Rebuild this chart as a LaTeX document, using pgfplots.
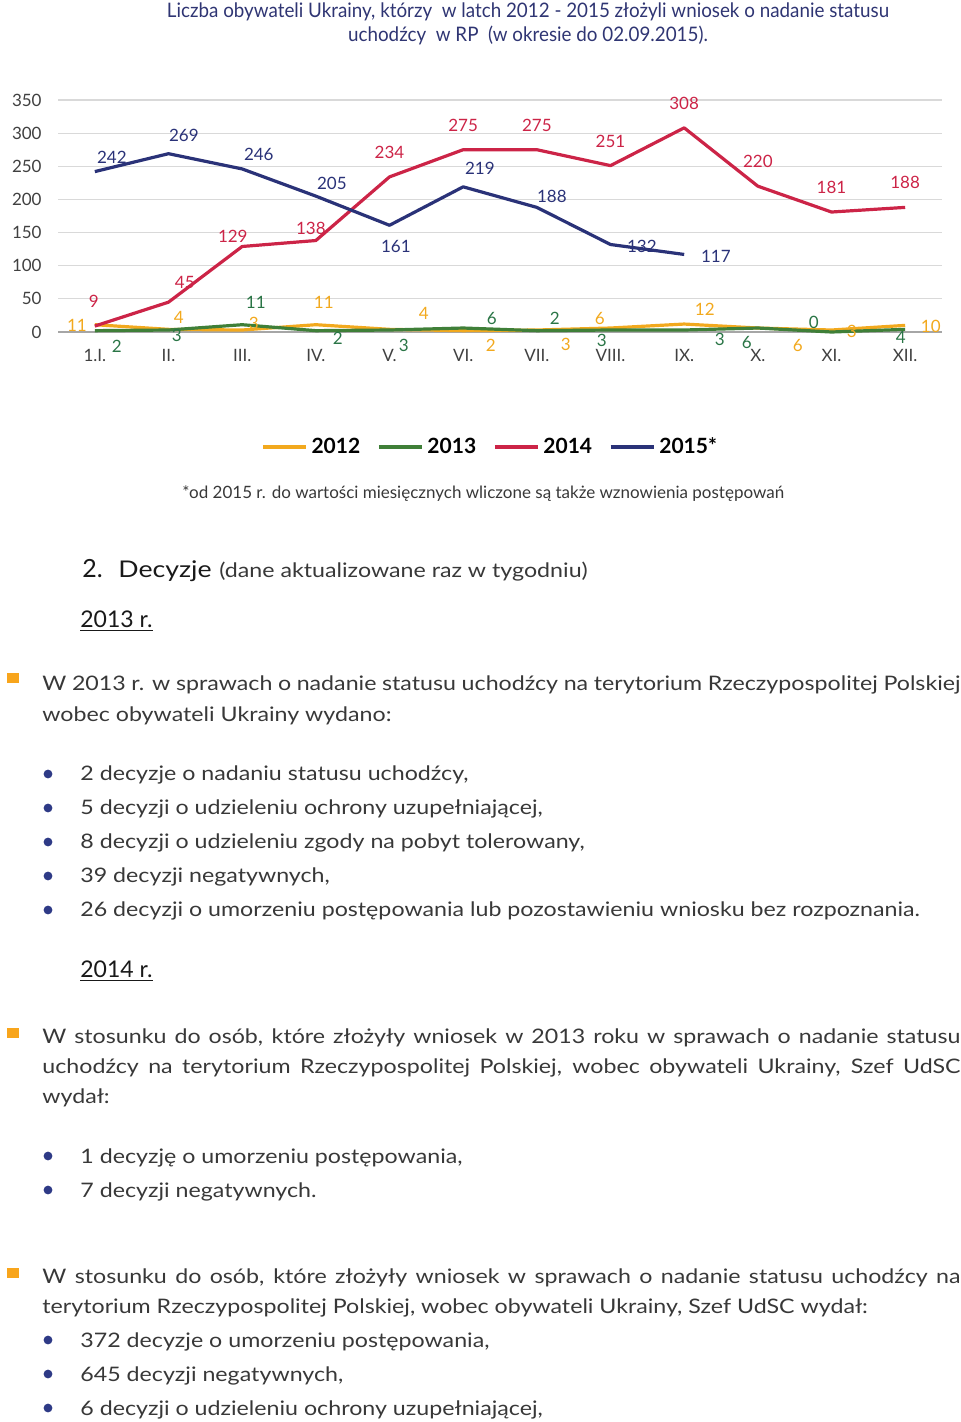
\documentclass[border=0pt]{standalone}
\usepackage{fontspec}
\setmainfont{Lato}
\newfontfamily\condfont[FakeStretch=0.94]{Lato}
\newfontfamily\widefont[FakeStretch=1.16]{Lato}
\usepackage{pgfplots}
\pgfplotsset{compat=1.18}
\usepackage{pgfplotstable}

\definecolor{c2012}{HTML}{F2A91E}
\definecolor{c2013}{HTML}{3F7F38}
\definecolor{l2013}{HTML}{2A7546}
\definecolor{c2014}{HTML}{CC2447}
\definecolor{c2015}{HTML}{2A3278}
\definecolor{titlec}{HTML}{2F3573}
\definecolor{dotc}{HTML}{2E3A86}
\definecolor{sqc}{HTML}{F8A51C}
\definecolor{bodyc}{HTML}{383838}
\definecolor{gridc}{HTML}{D9D9D9}
\definecolor{tickc}{HTML}{404040}

% monthly values
\pgfplotstableread{
m y12 y13 y14
0 11 2 9
1 4 3 45
2 3 11 129
3 11 2 138
4 4 3 234
5 2 6 275
6 3 2 275
7 6 3 251
8 12 3 308
9 6 6 220
10 3 0 181
11 10 4 188
}\monthly
\pgfplotstableread{
m y15
0 242
1 269
2 246
3 205
4 161
5 219
6 188
7 132
8 117
}\ytd

% where each data label sits (axis units) and its text
\pgfplotstableread{
lx ly t
-0.244 10.6 11
1.140 22.6 4
2.158 13.6 3
3.108 45.3 11
4.466 28.7 4
5.375 -19.6 2
6.393 -18.1 3
6.855 21.1 6
8.280 34.7 12
9.543 -19.6 6
10.276 1.5 3
11.348 9.1 10
}\labA
\pgfplotstableread{
lx ly t
0.299 -21.1 2
1.113 -4.5 3
2.185 45.3 11
3.298 -9.1 2
4.194 -19.6 3
5.389 21.1 6
6.244 21.1 2
6.882 -12.1 3
8.484 -10.6 3
8.850 -15.1 6
9.760 15.1 0
10.941 -7.5 4
}\labB
\pgfplotstableread{
lx ly t
-0.014 46.8 9
1.222 75.4 45
1.873 144.8 129
2.932 156.9 138
4.0 271.5 234
5.0 312.3 275
6.0 312.3 275
7.0 288.1 251
8.0 345.5 308
9.0 258.0 220
10.0 218.7 181
11.0 226.3 188
}\labC
\pgfplotstableread{
lx ly t
0.231 264.0 242
1.208 297.2 269
2.226 268.5 246
3.217 224.8 205
4.087 129.7 161
5.226 247.4 219
6.204 205.2 188
7.426 129.7 132
8.430 114.7 117
}\labD

\newcommand\bodyf{\widefont\fontsize{10}{12}\selectfont}
\newcommand\labf{\fontsize{8.5}{10}\selectfont}

\begin{document}
\begin{tikzpicture}[x=0.5pt,y=0.5pt]
\useasboundingbox (0,0) rectangle (960,-1422);

\begin{axis}[
  at={(29pt,-166pt)}, anchor=south west,
  scale only axis, width=442pt, height=116pt,
  xmin=-0.5, xmax=11.5, ymin=0, ymax=350,
  ytick={0,50,...,350}, xtick={0,...,11},
  xticklabels={1.I.,II.,III.,IV.,V.,VI.,VII.,VIII.,IX.,X.,XI.,XII.},
  ymajorgrids, grid style={gridc, line width=0.6pt},
  axis line style={draw=none},
  major tick length=0pt,
  tick label style={font=\labf, text=tickc},
  yticklabel style={anchor=east, inner sep=0pt, xshift=-8pt},
  xticklabel style={anchor=center, inner sep=0pt, yshift=-11.5pt},
  /pgf/number format/assume math mode=true,
  clip=false,
  legend columns=4,
  legend style={at={(0.49,-0.496)}, anchor=center, draw=none, fill=none,
    font=\bfseries\fontsize{10.5}{12}\selectfont,
    /tikz/every even column/.append style={column sep=6.5pt}},
  legend image code/.code={\draw[#1] (0pt,0pt) -- (21.5pt,0pt);},
  series/.style={#1, line width=1.6pt, line join=round, mark=none},
  lbl/.style={forget plot, draw=none, mark=none, nodes near coords,
    point meta=explicit symbolic,
    nodes near coords align={anchor=center},
    nodes near coords style={anchor=center, inner sep=0pt, font=\labf, text=#1}},
]
\draw[gray!70, line width=0.7pt] (axis cs:-0.5,0) -- (axis cs:11.5,0);
\addplot[series=c2012] table[x=m, y=y12] {\monthly};
\addplot[series=c2013] table[x=m, y=y13] {\monthly};
\addplot[series=c2014] table[x=m, y=y14] {\monthly};
\addplot[series=c2015] table[x=m, y=y15] {\ytd};
\legend{2012,2013,2014,2015*}
\addplot[lbl=c2012] table[x=lx, y=ly, meta=t] {\labA};
\addplot[lbl=l2013] table[x=lx, y=ly, meta=t] {\labB};
\addplot[lbl=c2014] table[x=lx, y=ly, meta=t] {\labC};
\addplot[lbl=c2015] table[x=lx, y=ly, meta=t] {\labD};
\end{axis}

% title
\node[anchor=base, inner sep=0pt, text=titlec, font=\condfont\fontsize{10}{12}\selectfont] at (528,-18)
  {Liczba obywateli Ukrainy, którzy\ \ w latch 2012 - 2015 złożyli wniosek o nadanie statusu};
\node[anchor=base, inner sep=0pt, text=titlec, font=\condfont\fontsize{10}{12}\selectfont] at (528,-42)
  {uchodźcy\ \ w RP\ \ (w okresie do 02.09.2015).};

% footnote
\node[anchor=base west, inner sep=0pt, text=bodyc, font=\fontsize{8.5}{10}\selectfont] at (182,-498)
  {*od 2015 r. do wartości miesięcznych wliczone są także wznowienia postępowań};

% heading
\node[anchor=base west, inner sep=0pt, text=black!90, font=\fontsize{12.5}{14}\selectfont] at (82,-577) {2.};
\node[anchor=base west, inner sep=0pt, text=black!90, font=\widefont\fontsize{11.5}{14}\selectfont] at (118,-577) {Decyzje};
\node[anchor=base west, inner sep=0pt, text=bodyc, font=\widefont\fontsize{10}{13}\selectfont] at (219,-577) {(dane aktualizowane raz w tygodniu)};
\node[anchor=base west, inner sep=0pt, text=black!90, font=\fontsize{11.5}{14}\selectfont] at (80,-627) {\underline{2013 r.}};
\node[anchor=base west, inner sep=0pt, text=black!90, font=\fontsize{11.5}{14}\selectfont] at (80,-977) {\underline{2014 r.}};

\begin{scope}[every node/.style={anchor=base west, inner sep=0pt, text=bodyc, font=\bodyf}]
% paragraph 1
\fill[sqc] (7,-673) rectangle (19,-683);
\node at (42,-690) {\makebox[459pt][s]{W 2013 r. w sprawach o nadanie statusu uchodźcy na terytorium Rzeczypospolitej Polskiej}};
\node at (42,-721) {wobec obywateli Ukrainy wydano:};
\foreach \t [count=\i from 0] in {2 decyzje o nadaniu statusu uchodźcy{,},
  5 decyzji o udzieleniu ochrony uzupełniającej{,},
  8 decyzji o udzieleniu zgody na pobyt tolerowany{,},
  39 decyzji negatywnych{,},
  26 decyzji o umorzeniu postępowania lub pozostawieniu wniosku bez rozpoznania.}{
  \fill[dotc] (48,-774-34*\i) circle (2.2pt);
  \node at (80,-780-34*\i) {\t};
}
% paragraph 2
\fill[sqc] (7,-1028) rectangle (19,-1038);
\node at (42,-1043) {\makebox[459pt][s]{W stosunku do osób, które złożyły wniosek w 2013 roku w sprawach o nadanie statusu}};
\node at (42,-1073) {\makebox[459pt][s]{uchodźcy na terytorium Rzeczypospolitej Polskiej, wobec obywateli Ukrainy, Szef UdSC}};
\node at (42,-1103) {wydał:};
\fill[dotc] (48,-1156) circle (2.2pt);
\node at (80,-1163) {1 decyzję o umorzeniu postępowania,};
\fill[dotc] (48,-1190) circle (2.2pt);
\node at (80,-1197) {7 decyzji negatywnych.};
% paragraph 3
\fill[sqc] (7,-1268) rectangle (19,-1278);
\node at (42,-1283) {\makebox[459pt][s]{W stosunku do osób, które złożyły wniosek w sprawach o nadanie statusu uchodźcy na}};
\node at (42,-1313) {terytorium Rzeczypospolitej Polskiej, wobec obywateli Ukrainy, Szef UdSC wydał:};
\fill[dotc] (48,-1340) circle (2.2pt);
\node at (80,-1347) {372 decyzje o umorzeniu postępowania,};
\fill[dotc] (48,-1374) circle (2.2pt);
\node at (80,-1381) {645 decyzji negatywnych,};
\fill[dotc] (48,-1408) circle (2.2pt);
\node at (80,-1415) {6 decyzji o udzieleniu ochrony uzupełniającej,};
\end{scope}
\end{tikzpicture}
\end{document}
